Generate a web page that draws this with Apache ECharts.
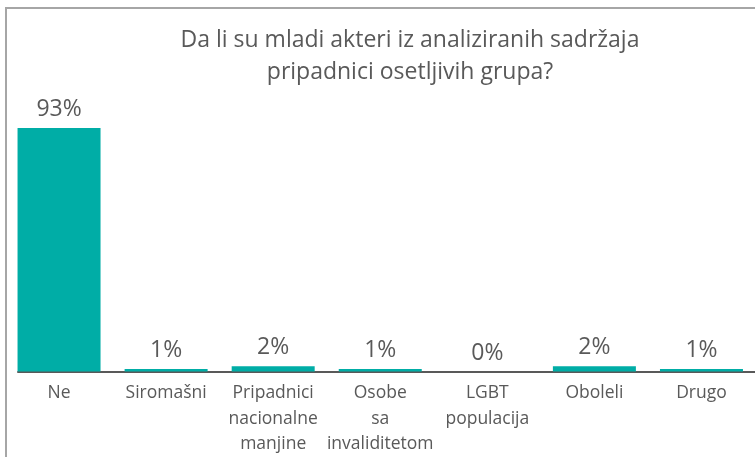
<!DOCTYPE html>
<html><head><meta charset="utf-8">
<script src="https://cdn.jsdelivr.net/npm/echarts@6/dist/echarts.min.js"></script>
<style>html,body{margin:0;padding:0;background:#fff}#c{width:755px;height:457px}</style>
</head><body><div id="c"></div>
<script>
const titleText = 'Da li su mladi akteri iz analiziranih sadržaja\npripadnici osetljivih grupa?';
const categories = ['Ne', 'Siromašni', 'Pripadnici\nnacionalne\nmanjine', 'Osobe\nsa\ninvaliditetom', 'LGBT\npopulacija', 'Oboleli', 'Drugo'];
const values = [93, 1, 2, 1, 0, 2, 1];

const chart = echarts.init(document.getElementById('c'), null, {renderer: 'canvas'});
const FONT = '"Open Sans", sans-serif';
chart.setOption({
  animation: false,
  backgroundColor: '#fff',
  title: {
    text: titleText, left: 405, top: 19, textAlign: 'center',
    textStyle: {fontFamily: FONT, fontSize: 23, fontWeight: 'normal', color: '#595959', lineHeight: 32}
  },
  graphic: [{
    type: 'rect', shape: {x: 6, y: 8, width: 800, height: 500},
    style: {fill: 'none', stroke: '#A6A6A6', lineWidth: 2}, silent: true
  }],
  grid: [
    {left: 5.5, right: -5.5, top: 109.7, bottom: 85.5},
    {left: 18, right: 0, top: 109.7, bottom: 85.5}
  ],
  xAxis: [{
    type: 'category', data: categories, gridIndex: 0,
    axisLine: {show: false}, axisTick: {show: false},
    axisLabel: {fontFamily: FONT, fontSize: 17.5, color: '#595959', lineHeight: 25.5, margin: 9, interval: 0}
  }, {
    type: 'value', gridIndex: 1, min: 0, max: 1,
    axisLine: {show: true, lineStyle: {color: '#595959', width: 2}},
    axisTick: {show: false}, axisLabel: {show: false}, splitLine: {show: false}
  }],
  yAxis: [{
    type: 'value', min: 0, max: 100, gridIndex: 0, show: false, splitLine: {show: false}
  }, {
    type: 'value', gridIndex: 1, show: false, splitLine: {show: false}
  }],
  series: [{
    type: 'bar', data: values, barWidth: 83, xAxisIndex: 0, yAxisIndex: 0,
    itemStyle: {color: '#00ADA6'},
    label: {show: true, position: 'top', distance: 7, formatter: '{c}%',
      fontFamily: FONT, fontSize: 23, color: '#595959'}
  }]
});
</script></body></html>
